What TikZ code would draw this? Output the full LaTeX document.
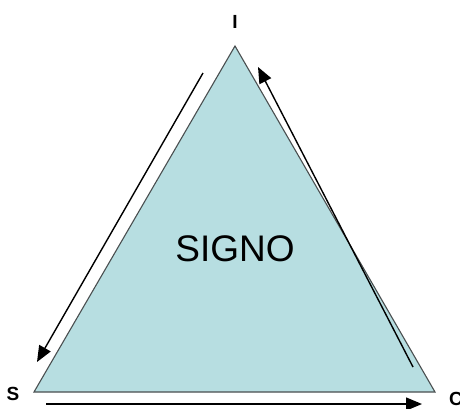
\documentclass[tikz,border=0pt]{standalone}
\usepackage{fontspec}
\setmainfont{Liberation Sans}
\usetikzlibrary{arrows.meta}
\definecolor{trifill}{HTML}{B7DEE1}
\definecolor{triedge}{HTML}{4A4F50}
\tikzset{
  lbl/.style={font=\fontsize{19}{19}\selectfont\bfseries, inner sep=0pt},
  conn/.style={line width=1.4pt, -{Triangle[length=16pt,width=13pt]}},
}
\begin{document}
\begin{tikzpicture}[x=1pt,y=-1pt]
\useasboundingbox (0,0) rectangle (460,408);
\fill[white] (0,0) rectangle (460,408);
\coordinate (top) at (235,46);
\coordinate (bl) at (34,392);
\coordinate (br) at (435,392);
\filldraw[fill=trifill, draw=triedge, line width=1.1pt] (top) -- (bl) -- (br) -- cycle;
\node[font=\fontsize{37}{37}\selectfont, inner sep=0pt] (signo) at (235,249) {SIGNO};
\node[lbl] (i) at (235,22) {I};
\node[lbl] (s) at (13,394) {S};
\node[lbl] (c) at (456,399) {C};
\coordinate (a1s) at (203,73);
\coordinate (a1e) at (37,362);
\coordinate (a2s) at (413,367);
\coordinate (a2e) at (258,67);
\coordinate (a3s) at (46,404);
\coordinate (a3e) at (422,404);
\draw[conn] (a1s) -- (a1e);
\draw[conn] (a2s) -- (a2e);
\draw[conn] (a3s) -- (a3e);
\end{tikzpicture}
\end{document}
